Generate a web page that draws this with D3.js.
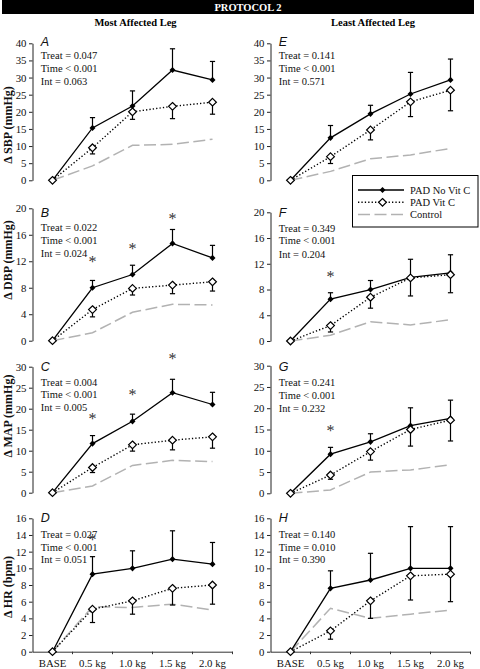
<!DOCTYPE html>
<html>
<head>
<meta charset="utf-8">
<script src="https://cdn.jsdelivr.net/npm/d3@7/dist/d3.min.js"></script>
<style>
  html, body { margin: 0; padding: 0; background: #fff; }
  svg { display: block; }
  text { font-family: "Liberation Serif", "Times New Roman", serif; }
  text.panel-letter { font-family: "Liberation Sans", Arial, sans-serif; font-style: italic; }
</style>
</head>
<body>
<svg id="chart" width="480" height="669"></svg>
<script>
// ---------------- DATA ----------------
const categories = ["BASE", "0.5 kg", "1.0 kg", "1.5 kg", "2.0 kg"];
const seriesNames = ["PAD No Vit C", "PAD Vit C", "Control"];

const sbpTicks = [0, 5, 10, 15, 20, 25, 30, 35, 40];
const dbpTicks = [0, 4, 8, 12, 16, 20];
const mapTicks = [0, 5, 10, 15, 20, 25, 30];
const hrTicks  = [0, 2, 4, 6, 8, 10, 12, 14, 16];

// A: ΔSBP, most affected leg
const sbpMostNoVit     = [0, 15.3, 21.7, 32.2, 29.3];
const sbpMostNoVitTop  = [null, 18.3, 26.1, 38.4, 34.7];
const sbpMostVit       = [0, 9.5, 20.0, 21.6, 22.8];
const sbpMostVitLow    = [null, 7.7, 17.8, 18.0, 19.3];
const sbpMostControl   = [0, 4.2, 10.2, 10.5, 12.0];
const sbpMostSig       = [null, null, null, null, null];
const sbpMostStats     = ["Treat = 0.047", "Time < 0.001", "Int = 0.063"];

// E: ΔSBP, least affected leg
const sbpLeastNoVit    = [0, 12.4, 19.4, 25.2, 29.3];
const sbpLeastNoVitTop = [null, 16.0, 21.9, 31.5, 35.4];
const sbpLeastVit      = [0, 6.9, 14.7, 22.9, 26.3];
const sbpLeastVitLow   = [null, 4.9, 11.8, 18.6, 20.3];
const sbpLeastControl  = [0, 2.6, 6.3, 7.4, 9.3];
const sbpLeastSig      = [null, null, null, null, null];
const sbpLeastStats    = ["Treat = 0.141", "Time < 0.001", "Int = 0.571"];

// B: ΔDBP, most affected leg
const dbpMostNoVit     = [0, 8.0, 10.0, 14.7, 12.5];
const dbpMostNoVitTop  = [null, 9.1, 11.4, 16.8, 14.4];
const dbpMostVit       = [0, 4.7, 7.9, 8.4, 8.9];
const dbpMostVitLow    = [null, 3.6, 6.9, 7.1, 7.5];
const dbpMostControl   = [0, 1.2, 4.3, 5.5, 5.4];
const dbpMostSig       = [null, 12.2, 14.2, 18.7, null];
const dbpMostStats     = ["Treat = 0.022", "Time < 0.001", "Int = 0.024"];

// F: ΔDBP, least affected leg
const dbpLeastNoVit    = [0, 6.5, 8.0, 9.9, 10.6];
const dbpLeastNoVitTop = [null, 7.5, 9.4, 12.7, 13.4];
const dbpLeastVit      = [0, 2.4, 6.8, 9.8, 10.3];
const dbpLeastVitLow   = [null, 1.4, 5.1, 7.0, 7.5];
const dbpLeastControl  = [0, 0.9, 3.0, 2.5, 3.3];
const dbpLeastSig      = [null, 10.3, null, null, null];
const dbpLeastStats    = ["Treat = 0.349", "Time < 0.001", "Int = 0.204"];

// C: ΔMAP, most affected leg
const mapMostNoVit     = [0, 11.7, 17.0, 23.8, 21.0];
const mapMostNoVitTop  = [null, 13.6, 18.7, 27.0, 23.9];
const mapMostVit       = [0, 6.0, 11.4, 12.5, 13.3];
const mapMostVitLow    = [null, 4.8, 9.9, 10.2, 10.6];
const mapMostControl   = [0, 1.6, 6.5, 7.7, 7.4];
const mapMostSig       = [null, 18.1, 23.9, 32.5, null];
const mapMostStats     = ["Treat = 0.004", "Time < 0.001", "Int = 0.005"];

// G: ΔMAP, least affected leg
const mapLeastNoVit    = [0, 9.2, 12.1, 15.9, 17.6];
const mapLeastNoVitTop = [null, 10.8, 14.0, 20.1, 21.9];
const mapLeastVit      = [0, 4.3, 9.8, 15.0, 17.2];
const mapLeastVitLow   = [null, 3.3, 7.8, 11.1, 12.3];
const mapLeastControl  = [0, 0.8, 5.0, 5.5, 6.7];
const mapLeastSig      = [null, 15.3, null, null, null];
const mapLeastStats    = ["Treat = 0.241", "Time < 0.001", "Int = 0.232"];

// D: ΔHR, most affected leg
const hrMostNoVit      = [0, 9.3, 10.0, 11.1, 10.5];
const hrMostNoVitTop   = [null, 11.4, 12.1, 14.5, 13.1];
const hrMostVit        = [0, 5.1, 6.1, 7.6, 8.0];
const hrMostVitLow     = [null, 3.5, 4.5, 5.6, 5.7];
const hrMostControl    = [0, 5.4, 5.3, 5.7, 5.0];
const hrMostSig        = [null, 13.7, null, null, null];
const hrMostStats      = ["Treat = 0.027", "Time < 0.001", "Int = 0.051"];

// H: ΔHR, least affected leg
const hrLeastNoVit     = [0, 7.6, 8.6, 10.0, 10.0];
const hrLeastNoVitTop  = [null, 9.7, 11.8, 15.0, 15.0];
const hrLeastVit       = [0, 2.5, 6.1, 9.1, 9.3];
const hrLeastVitLow    = [null, 1.5, 4.0, 6.2, 6.0];
const hrLeastControl   = [0, 5.2, 4.0, 4.5, 5.0];
const hrLeastSig       = [null, null, null, null, null];
const hrLeastStats     = ["Treat = 0.140", "Time = 0.010", "Int = 0.390"];

// ---------------- LAYOUT ----------------
const svg = d3.select("#chart");
const CONTROL_GRAY = "#b2b2b2";

const colRange = [[32.5, 232.5], [270.5, 470.5]];

const panels = [
  {letter: "A", col: 0, ymax: 40, yTop: 43.3, yBot: 180.3, ticks: sbpTicks, noVit: sbpMostNoVit, noVitTop: sbpMostNoVitTop, vit: sbpMostVit, vitLow: sbpMostVitLow, control: sbpMostControl, sig: sbpMostSig, stats: sbpMostStats, letterY: 46, statsY: [58.5, 72, 85], ylabel: "Δ SBP (mmHg)", ylabelY: 125},
  {letter: "E", col: 1, ymax: 40, yTop: 43.3, yBot: 180.3, ticks: sbpTicks, noVit: sbpLeastNoVit, noVitTop: sbpLeastNoVitTop, vit: sbpLeastVit, vitLow: sbpLeastVitLow, control: sbpLeastControl, sig: sbpLeastSig, stats: sbpLeastStats, letterY: 46, statsY: [59, 72.3, 85]},
  {letter: "B", col: 0, ymax: 20, yTop: 208.3, yBot: 340.7, ticks: dbpTicks, noVit: dbpMostNoVit, noVitTop: dbpMostNoVitTop, vit: dbpMostVit, vitLow: dbpMostVitLow, control: dbpMostControl, sig: dbpMostSig, stats: dbpMostStats, letterY: 216.7, statsY: [231, 243.5, 256.6], ylabel: "Δ DBP (mmHg)", ylabelY: 260},
  {letter: "F", col: 1, ymax: 20, yTop: 212.3, yBot: 341, ticks: dbpTicks, noVit: dbpLeastNoVit, noVitTop: dbpLeastNoVitTop, vit: dbpLeastVit, vitLow: dbpLeastVitLow, control: dbpLeastControl, sig: dbpLeastSig, stats: dbpLeastStats, letterY: 216.7, statsY: [231.6, 244, 257.6]},
  {letter: "C", col: 0, ymax: 30, yTop: 366.7, yBot: 492.7, ticks: mapTicks, noVit: mapMostNoVit, noVitTop: mapMostNoVitTop, vit: mapMostVit, vitLow: mapMostVitLow, control: mapMostControl, sig: mapMostSig, stats: mapMostStats, letterY: 371, statsY: [386, 398.3, 411], ylabel: "Δ MAP (mmHg)", ylabelY: 416},
  {letter: "G", col: 1, ymax: 30, yTop: 365.7, yBot: 493.3, ticks: mapTicks, noVit: mapLeastNoVit, noVitTop: mapLeastNoVitTop, vit: mapLeastVit, vitLow: mapLeastVitLow, control: mapLeastControl, sig: mapLeastSig, stats: mapLeastStats, letterY: 370.7, statsY: [386, 399, 411.6]},
  {letter: "D", col: 0, ymax: 16, yTop: 518.3, yBot: 651.7, ticks: hrTicks, noVit: hrMostNoVit, noVitTop: hrMostNoVitTop, vit: hrMostVit, vitLow: hrMostVitLow, control: hrMostControl, sig: hrMostSig, stats: hrMostStats, letterY: 522.3, statsY: [538.3, 550.6, 563.3], ylabel: "Δ HR (bpm)", ylabelY: 587, xaxis: true},
  {letter: "H", col: 1, ymax: 16, yTop: 518.3, yBot: 651.7, ticks: hrTicks, noVit: hrLeastNoVit, noVitTop: hrLeastNoVitTop, vit: hrLeastVit, vitLow: hrLeastVitLow, control: hrLeastControl, sig: hrLeastSig, stats: hrLeastStats, letterY: 522.3, statsY: [538.3, 550.6, 563.3], xaxis: true}
];

// ---------------- HEADER ----------------
svg.append("rect").attr("x", 2).attr("y", 0).attr("width", 472).attr("height", 14).attr("fill", "#000");
svg.append("text").attr("x", 248).attr("y", 10.8).attr("text-anchor", "middle")
  .attr("fill", "#fff").attr("font-weight", "bold").attr("font-size", "10.5px").text("PROTOCOL 2");
svg.append("text").attr("x", 135.5).attr("y", 25.5).attr("text-anchor", "middle")
  .attr("font-weight", "bold").attr("font-size", "10.5px").text("Most Affected Leg");
svg.append("text").attr("x", 373).attr("y", 25.5).attr("text-anchor", "middle")
  .attr("font-weight", "bold").attr("font-size", "10.5px").text("Least Affected Leg");

// ---------------- MARKERS ----------------
function diamond(w, h) { return `M0,${-h}L${w},0L0,${h}L${-w},0Z`; }
const filledDiamond = diamond(3.0, 3.1);
const openDiamond = diamond(3.9, 3.8);

// ---------------- PANELS ----------------
panels.forEach(p => {
  const x = d3.scaleBand().domain(categories).range(colRange[p.col]).padding(0);
  const cx = c => x(c) + x.bandwidth() / 2;
  const y = d3.scaleLinear().domain([0, p.ymax]).range([p.yBot, p.yTop]);
  const axisX = colRange[p.col][0];
  const g = svg.append("g");

  // y axis
  const ax = g.append("g").attr("transform", `translate(${axisX},0)`)
    .call(d3.axisLeft(y).tickValues(p.ticks).tickSize(3.5).tickSizeOuter(0).tickPadding(2.5).tickFormat(d3.format("d")));
  ax.select(".domain").attr("stroke", "#222");
  ax.selectAll(".tick line").attr("stroke", "#222");
  ax.selectAll(".tick text").attr("font-size", "10.8px").attr("fill", "#111");

  // x axis (bottom panels only)
  if (p.xaxis) {
    const bx = g.append("g").attr("transform", `translate(0,${p.yBot})`)
      .call(d3.axisBottom(x).tickSize(0).tickSizeOuter(0).tickPadding(8));
    bx.select(".domain").attr("stroke", "#333");
    bx.selectAll(".tick text").attr("font-size", "10.8px").attr("fill", "#111");
    // boundary ticks
    g.selectAll(".btick").data(categories).join("line")
      .attr("x1", c => x(c) + x.bandwidth()).attr("x2", c => x(c) + x.bandwidth())
      .attr("y1", p.yBot).attr("y2", p.yBot + 2.5).attr("stroke", "#333").attr("stroke-width", 1);
  }

  const line = d3.line().x((d, i) => cx(categories[i])).y(d => y(d));

  // control
  g.append("path").datum(p.control).attr("d", line).attr("fill", "none")
    .attr("stroke", CONTROL_GRAY).attr("stroke-width", 1.5).attr("stroke-dasharray", "12,4.5");

  // No Vit C line + upper error bars
  g.append("path").datum(p.noVit).attr("d", line).attr("fill", "none")
    .attr("stroke", "#000").attr("stroke-width", 1.3);
  const nvErr = p.noVit.map((v, i) => ({c: categories[i], v, t: p.noVitTop[i]})).filter(d => d.t != null);
  g.selectAll(".nvErr").data(nvErr).join("line")
    .attr("x1", d => cx(d.c)).attr("x2", d => cx(d.c)).attr("y1", d => y(d.v)).attr("y2", d => y(d.t))
    .attr("stroke", "#000").attr("stroke-width", 1.2);
  g.selectAll(".nvCap").data(nvErr).join("line")
    .attr("x1", d => cx(d.c) - 2.6).attr("x2", d => cx(d.c) + 2.6).attr("y1", d => y(d.t)).attr("y2", d => y(d.t))
    .attr("stroke", "#000").attr("stroke-width", 1.2);

  // Vit C line + lower error bars
  g.append("path").datum(p.vit).attr("d", line).attr("fill", "none")
    .attr("stroke", "#000").attr("stroke-width", 1.4).attr("stroke-dasharray", "1.3,2.1");
  const vErr = p.vit.map((v, i) => ({c: categories[i], v, t: p.vitLow[i]})).filter(d => d.t != null);
  g.selectAll(".vErr").data(vErr).join("line")
    .attr("x1", d => cx(d.c)).attr("x2", d => cx(d.c)).attr("y1", d => y(d.v)).attr("y2", d => y(d.t))
    .attr("stroke", "#000").attr("stroke-width", 1.2);
  g.selectAll(".vCap").data(vErr).join("line")
    .attr("x1", d => cx(d.c) - 2.6).attr("x2", d => cx(d.c) + 2.6).attr("y1", d => y(d.t)).attr("y2", d => y(d.t))
    .attr("stroke", "#000").attr("stroke-width", 1.2);

  // markers
  g.selectAll(".nvPt").data(p.noVit).join("path")
    .attr("d", filledDiamond).attr("transform", (d, i) => `translate(${cx(categories[i])},${y(d)})`)
    .attr("fill", "#000");
  g.selectAll(".vPt").data(p.vit).join("path")
    .attr("d", openDiamond).attr("transform", (d, i) => `translate(${cx(categories[i])},${y(d)})`)
    .attr("fill", "#fff").attr("stroke", "#000").attr("stroke-width", 1.2);

  // significance asterisks
  const sig = p.sig.map((v, i) => ({c: categories[i], v})).filter(d => d.v != null);
  g.selectAll(".sig").data(sig).join("text")
    .attr("x", d => cx(d.c)).attr("y", d => y(d.v) + 7.5).attr("text-anchor", "middle")
    .attr("font-size", "16px").attr("fill", "#333").text("*");

  // panel letter
  g.append("text").attr("class", "panel-letter").attr("x", axisX + 8.3).attr("y", p.letterY)
    .attr("font-size", "12.5px").attr("fill", "#111").text(p.letter);

  // stats text
  g.selectAll(".stat").data(p.stats).join("text")
    .attr("x", axisX + 8.3).attr("y", (d, i) => p.statsY[i])
    .attr("font-size", "10.5px").attr("fill", "#111").text(d => d);

  // y label
  if (p.ylabel) {
    g.append("text").attr("transform", `translate(11.5,${p.ylabelY}) rotate(-90)`)
      .attr("text-anchor", "middle").attr("font-weight", "bold").attr("font-size", "12px")
      .attr("fill", "#111").text(p.ylabel);
  }
});

// ---------------- LEGEND ----------------
const lg = svg.append("g");
lg.append("rect").attr("x", 352.5).attr("y", 175.5).attr("width", 125.5).attr("height", 51.5)
  .attr("fill", "#fff").attr("stroke", "#000").attr("stroke-width", 1);
const legendRows = [190, 202.3, 214.5];
const legendStyles = [
  {stroke: "#000", dash: null, width: 1.3, marker: filledDiamond, fill: "#000"},
  {stroke: "#000", dash: "1.3,2.1", width: 1.4, marker: openDiamond, fill: "#fff"},
  {stroke: CONTROL_GRAY, dash: "12,4.5", width: 1.5, marker: null}
];
seriesNames.forEach((name, i) => {
  const s = legendStyles[i];
  const yy = legendRows[i];
  const ln = lg.append("line").attr("x1", 358).attr("x2", 404).attr("y1", yy).attr("y2", yy)
    .attr("stroke", s.stroke).attr("stroke-width", s.width);
  if (s.dash) ln.attr("stroke-dasharray", s.dash);
  if (s.marker) {
    const m = lg.append("path").attr("d", s.marker).attr("transform", `translate(382.5,${yy})`).attr("fill", s.fill);
    if (s.fill === "#fff") m.attr("stroke", "#000").attr("stroke-width", 1.2);
  }
  lg.append("text").attr("x", 410).attr("y", yy + 3.6).attr("font-size", "10.5px").attr("fill", "#111").text(name);
});
</script>
</body>
</html>
